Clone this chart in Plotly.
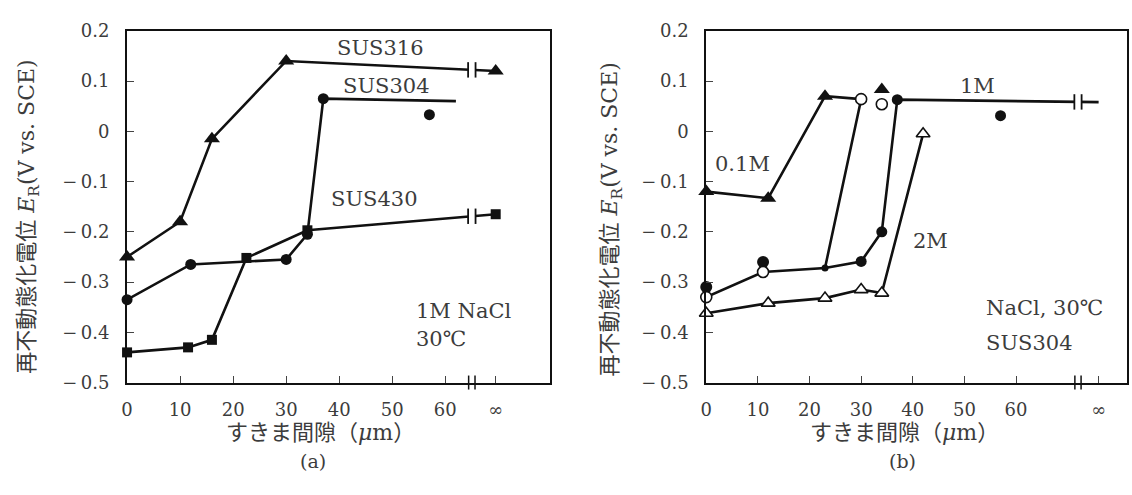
import plotly.graph_objects as go

W, H = 1132, 495

# ---------------- data ----------------
# panel (a): 1M NaCl, 30 C
INF_A = 69.5          # position of the "infinity" column on the x axis
BREAK_A = 65          # axis break position
a316_x = [0, 10, 16, 30]
a316_y = [-0.25, -0.18, -0.015, 0.14]
a316_inf = 0.12
a304_x = [0, 12, 30, 34, 37]
a304_y = [-0.335, -0.265, -0.255, -0.205, 0.065]
a304_end_x = 62
a304_end_y = 0.06
a304_iso_x = [57]
a304_iso_y = [0.033]
a430_x = [0, 11.5, 16, 22.5, 34]
a430_y = [-0.44, -0.43, -0.415, -0.252, -0.197]
a430_inf = -0.165

# panel (b): NaCl, 30 C, SUS304
INF_B = 76
BREAK_B = 72
b01_x = [0, 12, 23]
b01_y = [-0.12, -0.133, 0.07]
b1_x = [0, 11, 23, 30, 34, 37]
b1_y = [-0.31, -0.26, -0.272, -0.259, -0.2, 0.063]
b1_inf = 0.058
bo_x = [0, 11, 30]
bo_y = [-0.33, -0.28, 0.064]
b2_x = [0, 12, 23, 30, 34, 42]
b2_y = [-0.362, -0.342, -0.332, -0.315, -0.322, -0.005]
b_iso_tri_x = [34]
b_iso_tri_y = [0.083]
b_iso_oc_x = [34]
b_iso_oc_y = [0.054]
b_iso_fc_x = [57]
b_iso_fc_y = [0.031]

x_ticks = [0, 10, 20, 30, 40, 50, 60]
y_ticks = [-0.5, -0.4, -0.3, -0.2, -0.1, 0, 0.1, 0.2]
y_ticktext = ["\u2212\u20090.5", "\u2212\u20090.4", "\u2212\u20090.3", "\u2212\u20090.2",
              "\u2212\u20090.1", "0", "0.1", "0.2"]

# ---------------- style ----------------
LINE = "#111111"
TEXT = "#3c3c3c"
SERIF = "DejaVu Serif, Noto Sans CJK JP"
LW = 2.6

fig = go.Figure()


def path(x, y, xa, ya):
    fig.add_trace(go.Scatter(
        x=x, y=y, xaxis=xa, yaxis=ya, mode="lines",
        line=dict(color=LINE, width=LW),
        showlegend=False, hoverinfo="skip", cliponaxis=False))


def marks(x, y, xa, ya, symbol, size, open_=False):
    fig.add_trace(go.Scatter(
        x=x, y=y, xaxis=xa, yaxis=ya, mode="markers",
        marker=dict(symbol=symbol, size=size, opacity=1,
                    color="white" if open_ else LINE,
                    line=dict(color=LINE, width=1.6 if open_ else 0)),
        showlegend=False, hoverinfo="skip", cliponaxis=False))


def add_break(xb, yb, xa, ya, gap=0.7):
    fig.add_trace(go.Scatter(
        x=[xb], y=[yb], xaxis=xa, yaxis=ya, mode="markers",
        marker=dict(symbol="square", size=7, color="white", opacity=1, line=dict(width=0)),
        showlegend=False, hoverinfo="skip", cliponaxis=False))
    fig.add_trace(go.Scatter(
        x=[xb - gap, xb + gap], y=[yb, yb], xaxis=xa, yaxis=ya, mode="markers",
        marker=dict(symbol="line-ns", size=11, opacity=1, line=dict(color=LINE, width=1.8)),
        showlegend=False, hoverinfo="skip", cliponaxis=False))


def axis_break(xb, xa, ya):
    fig.add_trace(go.Scatter(
        x=[xb - 0.6, xb + 0.6], y=[-0.5, -0.5], xaxis=xa, yaxis=ya,
        mode="markers", marker=dict(symbol="line-ns", size=10, opacity=1,
                                    line=dict(color=LINE, width=1.5)),
        showlegend=False, hoverinfo="skip", cliponaxis=False))


def interp(x0, y0, x1, y1, xb):
    return y0 + (y1 - y0) * (xb - x0) / (x1 - x0)


# ---- panel (a) ----
path(a316_x + [INF_A], a316_y + [a316_inf], "x", "y")
marks(a316_x + [INF_A], a316_y + [a316_inf], "x", "y", "triangle-up", 14)
add_break(BREAK_A, interp(a316_x[-1], a316_y[-1], INF_A, a316_inf, BREAK_A), "x", "y")

path(a430_x + [INF_A], a430_y + [a430_inf], "x", "y")
marks(a430_x + [INF_A], a430_y + [a430_inf], "x", "y", "square", 10)
add_break(BREAK_A, interp(a430_x[-1], a430_y[-1], INF_A, a430_inf, BREAK_A), "x", "y")

path(a304_x + [a304_end_x], a304_y + [a304_end_y], "x", "y")
marks(a304_x, a304_y, "x", "y", "circle", 11)
marks(a304_iso_x, a304_iso_y, "x", "y", "circle", 11)
axis_break(BREAK_A, "x", "y")

# ---- panel (b) ----
# 0.1M (filled triangles), line runs on to the open-circle point at 30 um
path(b01_x + [bo_x[-1]], b01_y + [bo_y[-1]], "x2", "y2")
marks(b01_x, b01_y, "x2", "y2", "triangle-up", 14)
# 2M (open triangles)
path(b2_x, b2_y, "x2", "y2")
# open circles, path passes through the 1M point at 23 um
path(bo_x[:2] + [b1_x[2]] + bo_x[2:], bo_y[:2] + [b1_y[2]] + bo_y[2:], "x2", "y2")
# 1M (filled circles)
path(b1_x[2:] + [INF_B], b1_y[2:] + [b1_inf], "x2", "y2")
add_break(BREAK_B, interp(b1_x[-1], b1_y[-1], INF_B, b1_inf, BREAK_B), "x2", "y2")
marks(b1_x[:2], b1_y[:2], "x2", "y2", "circle", 12)
marks(b1_x[2:3], b1_y[2:3], "x2", "y2", "circle", 7)
marks(b1_x[3:], b1_y[3:], "x2", "y2", "circle", 11)
marks(bo_x, bo_y, "x2", "y2", "circle", 11, open_=True)
marks(b2_x, b2_y, "x2", "y2", "triangle-up", 12, open_=True)
# isolated points
marks(b_iso_tri_x, b_iso_tri_y, "x2", "y2", "triangle-up", 14)
marks(b_iso_oc_x, b_iso_oc_y, "x2", "y2", "circle", 11, open_=True)
marks(b_iso_fc_x, b_iso_fc_y, "x2", "y2", "circle", 11)
axis_break(BREAK_B, "x2", "y2")

# ---------------- axes ----------------
top = 1 - 20.7 / H
bot = 1 - 388 / H


def xaxis(dom, rng, inf, anchor):
    return dict(domain=dom, range=rng, anchor=anchor,
                tickvals=x_ticks + [inf],
                ticktext=[str(v) for v in x_ticks] + ["\u221e"],
                ticks="inside", ticklen=7, tickwidth=1.4, tickcolor="#444",
                showline=True, linecolor=LINE, linewidth=2, mirror=True,
                showgrid=False, zeroline=False, ticklabelstandoff=10,
                tickfont=dict(family=SERIF, size=18, color=TEXT))


def yaxis(anchor):
    return dict(domain=[bot, top], range=[-0.5, 0.2], anchor=anchor,
                tickvals=y_ticks, ticktext=y_ticktext,
                ticks="inside", ticklen=7, tickwidth=1.4, tickcolor="#444",
                showline=True, linecolor=LINE, linewidth=2, mirror=True,
                showgrid=False, zeroline=False, ticklabelstandoff=12,
                tickfont=dict(family=SERIF, size=18, color=TEXT))


fig.update_layout(
    width=W, height=H, margin=dict(l=0, r=0, t=0, b=0),
    paper_bgcolor="white", plot_bgcolor="white", showlegend=False,
    xaxis=xaxis([121.7 / W, 546.7 / W], [0, 79.7], INF_A, "y"),
    yaxis=yaxis("x"),
    xaxis2=xaxis([704 / W, 1127 / W], [0, 81.5], INF_B, "y2"),
    yaxis2=yaxis("x2"),
)

# ---------------- text ----------------
ann = []


def txt(text, x, y, xref, yref, size=21, xanchor="center", angle=0):
    ann.append(dict(text=text, x=x, y=y, xref=xref, yref=yref, showarrow=False,
                    xanchor=xanchor, yanchor="middle", textangle=angle,
                    font=dict(family=SERIF, size=size, color=TEXT)))


# panel a curve labels
txt("SUS316", 47.8, 0.166, "x", "y")
txt("SUS304", 49, 0.09, "x", "y")
txt("SUS430", 46.6, -0.135, "x", "y")
txt("1M NaCl", 54.1, -0.357, "x", "y", xanchor="left")
txt("30\u2103", 54.1, -0.414, "x", "y", xanchor="left")
# panel b labels
txt("1M", 52.5, 0.09, "x2", "y2")
txt("0.1M", 7, -0.065, "x2", "y2")
txt("2M", 43.5, -0.218, "x2", "y2")
txt("NaCl, 30\u2103", 53.8, -0.351, "x2", "y2", xanchor="left")
txt("SUS304", 53.8, -0.421, "x2", "y2", xanchor="left")

ytitle = "再不動態化電位 <i>E</i><sub>R</sub>(V vs. SCE)"
txt(ytitle, 23 / W, 1 - 215 / H, "paper", "paper", size=22, angle=-90)
txt(ytitle, 609 / W, 1 - 218 / H, "paper", "paper", size=22, angle=-90)
txt("すきま間隙（<i>μ</i>m）", 316 / W, 1 - 440 / H, "paper", "paper", size=22)
txt("すきま間隙（<i>μ</i>m）", 903 / W, 1 - 440 / H, "paper", "paper", size=22)
txt("(a)", 309 / W, 1 - 470 / H, "paper", "paper", size=19)
txt("(b)", 901 / W, 1 - 470 / H, "paper", "paper", size=19)

fig.update_layout(annotations=ann)

fig.write_html("out.html")
